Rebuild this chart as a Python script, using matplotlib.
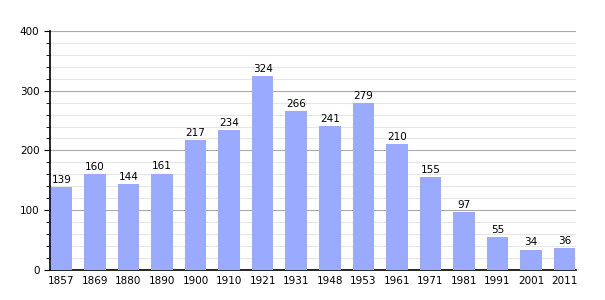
import matplotlib.pyplot as plt
from matplotlib.ticker import MultipleLocator

years = ['1857', '1869', '1880', '1890', '1900', '1910', '1921', '1931',
         '1948', '1953', '1961', '1971', '1981', '1991', '2001', '2011']
population = [139, 160, 144, 161, 217, 234, 324, 266, 241, 279, 210, 155, 97, 55, 34, 36]

fig = plt.figure(figsize=(6.05, 3.0), dpi=100)
ax = fig.add_axes([0.0826, 0.1, 0.8695, 0.797])

x = range(len(years))
ax.bar(x, population, width=0.64, color='#99aaff', zorder=3)
for i, v in enumerate(population):
    ax.text(i, v + 4, str(v), ha='center', va='bottom', fontsize=7.5, zorder=4)

ax.set_xlim(-0.34, len(years) - 0.66)
ax.set_ylim(0, 400)
ax.set_xticks(list(x))
ax.set_xticklabels(years, fontsize=7.5)
ax.yaxis.set_major_locator(MultipleLocator(100))
ax.yaxis.set_minor_locator(MultipleLocator(20))
ax.tick_params(axis='y', which='major', labelsize=7.5, length=4)
ax.tick_params(axis='y', which='minor', length=3)
ax.tick_params(axis='x', length=0, pad=4)

ax.grid(axis='y', which='major', color='#aaaaaa', linewidth=0.8, zorder=0)
ax.grid(axis='y', which='minor', color='#e6e6e6', linewidth=0.8, zorder=0)
for s in ['top', 'right']:
    ax.spines[s].set_visible(False)
ax.spines['left'].set_linewidth(1.2)
ax.spines['bottom'].set_linewidth(1.2)

fig.savefig('out.png', dpi=100)
